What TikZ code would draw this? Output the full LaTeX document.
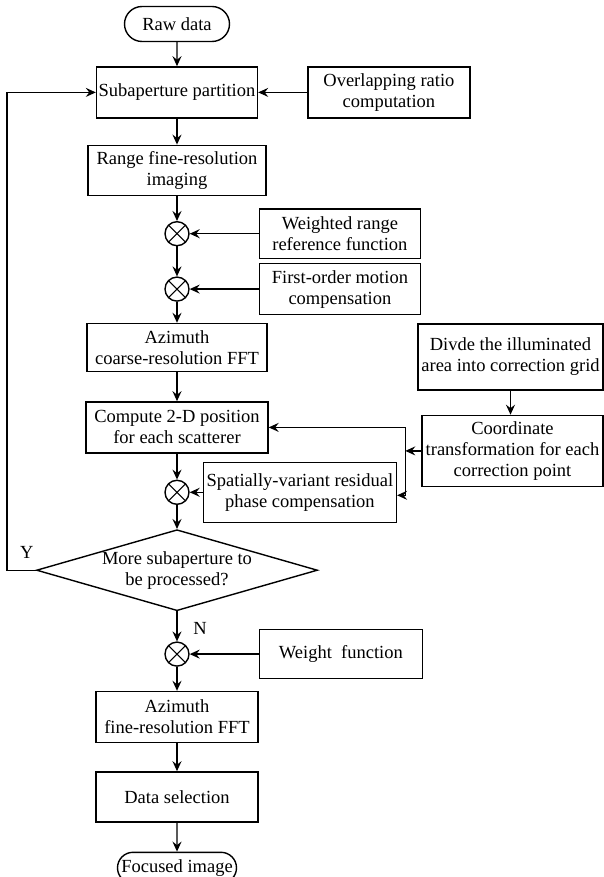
\documentclass[tikz,border=0pt]{standalone}
\usepackage{fontspec}
\setmainfont{Liberation Serif}
\usetikzlibrary{arrows.meta, positioning, shapes.geometric, shapes.misc}

\begin{document}
\begin{tikzpicture}[x=1pt,y=-1pt,node distance=25pt,line width=1.4pt,
    >={Stealth[length=10pt,width=9pt,inset=3.5pt]},
    every node/.style={font=\fontsize{18.5}{21}\selectfont}]
  \tikzstyle{block}=[draw,align=center,inner sep=2pt,minimum width=161pt,minimum height=50pt]
  \tikzstyle{term}=[draw,rounded rectangle,inner sep=3pt,minimum height=34pt]
  \tikzstyle{mult}=[draw,circle,inner sep=0pt,minimum size=24pt,
    path picture={\draw[line width=1pt]
      (path picture bounding box.north west) -- (path picture bounding box.south east)
      (path picture bounding box.south west) -- (path picture bounding box.north east);}]
  \tikzstyle{decision}=[draw,diamond,align=center,inner sep=0pt,minimum width=281pt,minimum height=81pt]

  \useasboundingbox (0,0) rectangle (604,877);

  \node[term,minimum width=111pt,minimum height=35pt] (raw) at (177,24)          {Raw data};
  \node[block,minimum height=51pt]             (sub_p)   [below=24pt of raw]     {Subaperture partition};
  \node[block,minimum width=162pt,minimum height=51pt] (overlap) [right=49pt of sub_p] {Overlapping ratio\\computation};
  \node[block,minimum width=178pt]             (range)   [below=26pt of sub_p]   {Range fine-resolution\\imaging};
  \node[mult]                                  (m_1)     [below=25pt of range]   {};
  \node[block,minimum height=49pt]             (wrange)  [right=69pt of m_1]     {Weighted range\\reference function};
  \node[mult]                                  (m_2)     [below=30pt of m_1]     {};
  \node[block,minimum height=51pt]             (motion)  [right=69pt of m_2]     {First-order motion\\compensation};
  \node[block,minimum width=180pt,minimum height=48pt] (az_c) [below=21pt of m_2] {Azimuth\\coarse-resolution FFT};
  \node[block,minimum width=182pt,minimum height=51pt] (pos)  [below=29pt of az_c] {Compute 2-D position\\for each scatterer};
  \node[mult]                                  (m_3)     [below=26pt of pos]     {};
  \node[block,minimum width=193pt,minimum height=60pt] (phase) [right=13pt of m_3] {Spatially-variant residual\\phase compensation};
  \node[block,minimum width=185pt,minimum height=66pt] (grid) at (510.5,357)      {Divde the illuminated\\area into correction grid};
  \node[block,minimum width=181pt,minimum height=71pt] (coord) [below=24pt of grid.south east,anchor=north east]
    {Coordinate\\transformation for each\\correction point};
  \node[decision]                              (more)    [below=24pt of m_3]
    {\makebox[0pt]{More subaperture to}\\\makebox[0pt]{be processed?}};
  \node[mult]                                  (m_4)     [below=30pt of more]    {};
  \node[block,minimum width=163pt,minimum height=49pt] (weight) [right=69pt of m_4] {Weight\ \ function};
  \node[block,minimum width=162pt,minimum height=51pt] (az_f) [below=24pt of m_4] {Azimuth\\fine-resolution FFT};
  \node[block,minimum width=162pt]             (select)  [below=28pt of az_f]    {Data selection};
  \node[term,minimum width=125pt,minimum height=31pt] (focus) [below=29pt of select] {Focused image};

  \node (lbl_y) at ([xshift=-9pt,yshift=18pt]more.west)   {Y};
  \node (lbl_n) at ([xshift=23pt,yshift=-17pt]more.south) {N};

  \coordinate (bus) at ([xshift=-16pt]coord.west);

  \path[->]
  (raw)     edge (sub_p)
  (overlap) edge (sub_p)
  (sub_p)   edge (range)
  (range)   edge (m_1)
  (wrange)  edge (m_1)
  (m_1)     edge (m_2)
  (motion)  edge (m_2)
  (m_2)     edge (az_c)
  (az_c)    edge (pos)
  (pos)     edge (m_3)
  (phase)   edge (m_3)
  (m_3)     edge (more)
  (grid)    edge (grid|-coord.north)
  (coord)   edge (bus)
  (more)    edge (m_4)
  (weight)  edge (m_4)
  (m_4)     edge (az_f)
  (az_f)    edge (select)
  (select)  edge (focus)
  ;

  \draw[->] (bus) |- (pos.east);
  \draw[->] (bus) |- ([yshift=-3pt]phase.east);
  \draw[->] (more.west) -- ++(-29pt,0) |- (sub_p.west);
\end{tikzpicture}
\end{document}
